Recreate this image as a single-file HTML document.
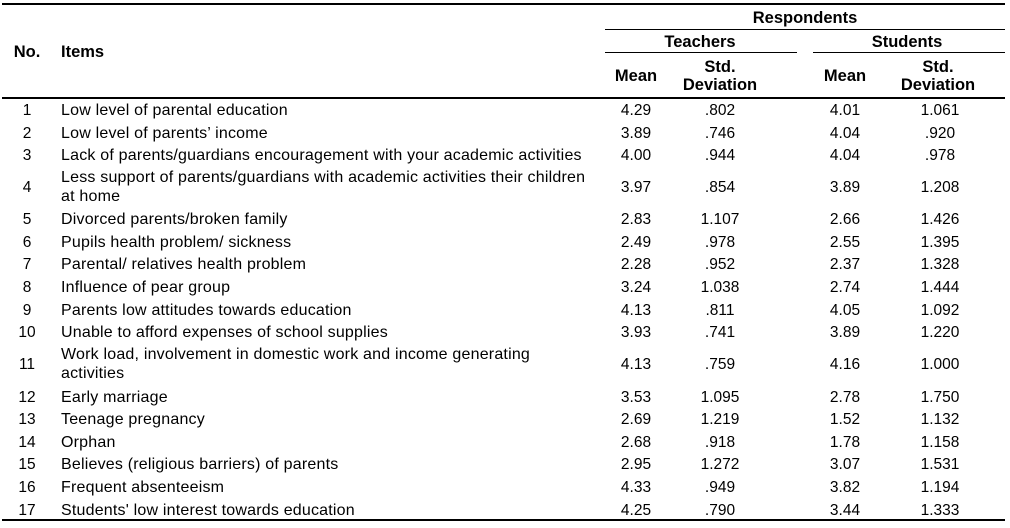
<!DOCTYPE html>
<html><head><meta charset="utf-8"><style>
body{margin:0;width:1010px;height:528px;background:#fff;position:relative;font-family:"Liberation Sans",Arial,sans-serif;font-size:15.5px;color:#000;overflow:hidden}
.a{position:absolute;white-space:nowrap;line-height:19px}
.c{transform:translateX(-50%);text-align:center}
.b{font-weight:bold;font-size:16.5px}
.it{font-size:16px;letter-spacing:0.2px}
.l{position:absolute;background:#000}
</style></head><body>
<div class="l" style="left:2px;top:3px;width:1003px;height:2px"></div>
<div class="l" style="left:605px;top:29px;width:400px;height:1px"></div>
<div class="l" style="left:605px;top:52px;width:192px;height:1px"></div>
<div class="l" style="left:813px;top:52px;width:192px;height:1px"></div>
<div class="l" style="left:2px;top:97px;width:1003px;height:2px"></div>
<div class="l" style="left:2px;top:519px;width:1003px;height:2px"></div>

<div class="a b c" style="left:27px;top:43px">No.</div>
<div class="a b" style="left:61px;top:43px">Items</div>
<div class="a b c" style="left:805px;top:9px">Respondents</div>
<div class="a b c" style="left:700px;top:33px">Teachers</div>
<div class="a b c" style="left:907px;top:33px">Students</div>
<div class="a b c" style="left:636px;top:67px">Mean</div>
<div class="a b c" style="left:720px;top:58px;line-height:18px">Std.<br>Deviation</div>
<div class="a b c" style="left:845px;top:67px">Mean</div>
<div class="a b c" style="left:938px;top:58px;line-height:18px">Std.<br>Deviation</div>

<div id="rows"></div>
<script>
const items=["Low level of parental education","Low level of parents’ income","Lack of parents/guardians encouragement with your academic activities","Less support of  parents/guardians with academic activities their children<br>at home","Divorced parents/broken family","Pupils health problem/ sickness","Parental/ relatives health problem","Influence of pear group","Parents low attitudes towards education","Unable to afford expenses of school supplies","Work load, involvement in domestic work and income generating<br>activities","Early marriage","Teenage pregnancy","Orphan","Believes (religious barriers) of  parents","Frequent absenteeism","Students' low interest towards education"];
const tMean=["4.29","3.89","4.00","3.97","2.83","2.49","2.28","3.24","4.13","3.93","4.13","3.53","2.69","2.68","2.95","4.33","4.25"];
const tSd=[".802",".746",".944",".854","1.107",".978",".952","1.038",".811",".741",".759","1.095","1.219",".918","1.272",".949",".790"];
const sMean=["4.01","4.04","4.04","3.89","2.66","2.55","2.37","2.74","4.05","3.89","4.16","2.78","1.52","1.78","3.07","3.82","3.44"];
const sSd=["1.061",".920",".978","1.208","1.426","1.395","1.328","1.444","1.092","1.220","1.000","1.750","1.132","1.158","1.531","1.194","1.333"];
const centers=[110,133,155,187,219,242,264,287,310,332,364,397,419,442,464,487,510];
const root=document.getElementById('rows');
function cell(html,x,y,center,name,cls){
  const d=document.createElement('div');
  d.className='a'+(center?' c':'')+(cls?' '+cls:'');
  d.innerHTML=html;
  d.style.left=x+'px';
  const two=html.includes('<br>');
  d.style.top=(y-(two?19:9.5))+'px';
  
  
  root.appendChild(d);
}
items.forEach((it,i)=>{
  const y=centers[i];
  cell(String(i+1),27,y,true,'row-'+(i+1)+'-no');
  cell(it,61,y,false,'row-'+(i+1)+'-item','it');
  cell(tMean[i],636,y,true,'row-'+(i+1)+'-teachers-mean');
  cell(tSd[i],720,y,true,'row-'+(i+1)+'-teachers-sd');
  cell(sMean[i],845,y,true,'row-'+(i+1)+'-students-mean');
  cell(sSd[i],940,y,true,'row-'+(i+1)+'-students-sd');
});
</script>
</body></html>
